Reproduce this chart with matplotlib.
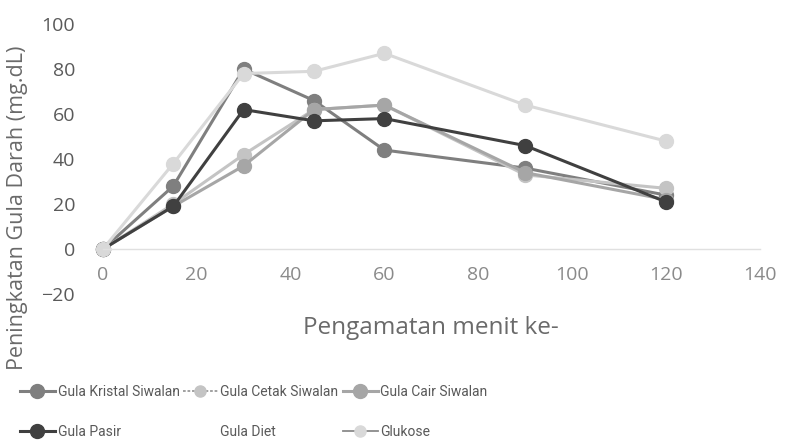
import matplotlib
matplotlib.use("Agg")
import matplotlib.pyplot as plt
from matplotlib import font_manager

# waktu pengamatan (menit) dan kenaikan gula darah tiap perlakuan
menit = [0, 15, 30, 45, 60, 90, 120]
gula_kristal = [0, 28, 80, 66, 44, 36, 24]
gula_cetak = [0, 20, 42, 62, 64, 33, 27]
gula_cair = [0, 19, 37, 62, 64, 34, 22]
gula_pasir = [0, 19, 62, 57, 58, 46, 21]
gula_diet = []
glukose = [0, 38, 78, 79, 87, 64, 48]

x_ticks = [0, 20, 40, 60, 80, 100, 120, 140]
y_ticks = [-20, 0, 20, 40, 60, 80, 100]

names = {f.name for f in font_manager.fontManager.ttflist}
main_font = "Open Sans" if "Open Sans" in names else "DejaVu Sans"
leg_font = "Liberation Sans Narrow" if "Liberation Sans Narrow" in names else "Roboto"
leg_size = 12.5 if leg_font == "Liberation Sans Narrow" else 10

fig = plt.figure(figsize=(8.1, 4.41), dpi=100)
ax = fig.add_axes([0.127, 0.333, 0.811, 0.6125])

style = dict(lw=2.2, marker="o", ms=10, clip_on=False)
l_kristal, = ax.plot(menit, gula_kristal, color="#7f7f7f", mfc="#7f7f7f", mec="#7f7f7f", **style)
l_cetak, = ax.plot(menit, gula_cetak, color="#c4c4c4", mfc="#c4c4c4", mec="#c4c4c4", **style)
l_cair, = ax.plot(menit, gula_cair, color="#a6a6a6", mfc="#a6a6a6", mec="#a6a6a6", **style)
l_pasir, = ax.plot(menit, gula_pasir, color="#404040", mfc="#404040", mec="#404040", **style)
l_diet, = ax.plot(menit[:len(gula_diet)], gula_diet, color="none")
l_gluk, = ax.plot(menit, glukose, color="#d9d9d9", mfc="#d9d9d9", mec="#d9d9d9", **style)

ax.set_xlim(0, 140)
ax.set_ylim(-20, 100)
ax.set_xticks(x_ticks)
ax.set_yticks(y_ticks)

for s in ["top", "right", "left"]:
    ax.spines[s].set_visible(False)
ax.spines["bottom"].set_position(("data", 0))
ax.spines["bottom"].set_color("#e0e0e0")
ax.spines["bottom"].set_linewidth(1)
ax.tick_params(axis="both", length=0)
ax.tick_params(axis="x", pad=12, labelsize=14, labelcolor="#8a8a8a")
ax.tick_params(axis="y", pad=20, labelsize=14, labelcolor="#5a5a5a")
for lab in ax.get_xticklabels() + ax.get_yticklabels():
    lab.set_fontfamily(main_font)

fig.text(431 / 810, 1 - 328 / 441, "Pengamatan menit ke-", ha="center", va="center",
         fontsize=17.5, color="#6a6a6a", family=main_font)
fig.text(18 / 810, 1 - 208 / 441, "Peningkatan Gula Darah (mg.dL)", ha="center", va="center",
         rotation=90, fontsize=15.5, color="#6a6a6a", family=main_font)

# legenda: tiga kolom, masing-masing dua baris
columns = [
    (20, [l_kristal, l_pasir], ["Gula Kristal Siwalan", "Gula Pasir"]),
    (183, [l_cetak, l_diet], ["Gula Cetak Siwalan", "Gula Diet"]),
    (343, [l_cair, l_gluk], ["Gula Cair Siwalan", "Glukose"]),
]
for x0, hs, ls in columns:
    leg = fig.legend(hs, ls, loc="center left", bbox_to_anchor=(x0 / 810, 1 - 412 / 441),
                     frameon=False, prop={"family": leg_font, "size": leg_size},
                     handlelength=2.5, handletextpad=0.2, labelspacing=1.85,
                     borderaxespad=0, borderpad=0, labelcolor="#595959")
    for h, name in zip(leg.legend_handles, ls):
        h.set_markersize(10)
        if name == "Gula Cetak Siwalan":
            h.set_linestyle((0, (1.5, 1)))
            h.set_linewidth(1.3)
            h.set_color("#9a9a9a")
            h.set_markersize(8)
        elif name == "Glukose":
            h.set_linewidth(1.3)
            h.set_color("#8a8a8a")
            h.set_markersize(8)

fig.savefig("out.png", dpi=100)
